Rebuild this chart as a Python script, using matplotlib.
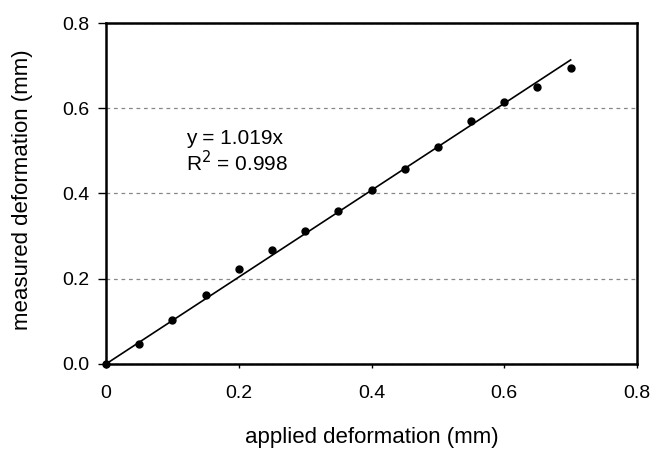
import matplotlib.pyplot as plt
import numpy as np

plt.rcParams['font.family'] = ['Liberation Sans', 'DejaVu Sans']

# measured data
applied = [0.0, 0.05, 0.10, 0.15, 0.20, 0.25, 0.30, 0.35, 0.40, 0.45, 0.50, 0.55, 0.60, 0.65, 0.70]
measured = [0.0, 0.046, 0.104, 0.161, 0.223, 0.267, 0.311, 0.359, 0.407, 0.457, 0.509, 0.571, 0.615, 0.651, 0.695]
slope = 1.019
fit_x = [0.0, 0.70]

fig = plt.figure(figsize=(6.52, 4.51), dpi=100)
ax = fig.add_axes([0.1626, 0.193, 0.8144, 0.756])

ax.plot(fit_x, [slope * v for v in fit_x], color='black', lw=1.2, zorder=3)
ax.plot(applied, measured, 'o', color='black', ms=5, zorder=4, clip_on=False)

ax.set_xlim(0, 0.8)
ax.set_ylim(0, 0.8)
ax.set_xticks([0, 0.2, 0.4, 0.6, 0.8])
ax.set_xticklabels(['0', '0.2', '0.4', '0.6', '0.8'])
ax.set_yticks([0, 0.2, 0.4, 0.6, 0.8])
ax.set_yticklabels(['0.0', '0.2', '0.4', '0.6', '0.8'])
ax.yaxis.grid(True, linestyle=(0, (3, 3)), color='#888888', lw=0.9)
ax.set_axisbelow(True)

for s in ax.spines.values():
    s.set_linewidth(1.8)
ax.tick_params(axis='both', direction='out', labelsize=14, width=1)
ax.tick_params(axis='x', length=3, pad=12)
ax.tick_params(axis='y', length=6, pad=6)

ax.set_xlabel('applied deformation (mm)', fontsize=16)
ax.set_ylabel('measured deformation (mm)', fontsize=16)
ax.xaxis.set_label_coords(0.5, -0.215)
ax.xaxis.label.set_va('center')
ax.yaxis.set_label_coords(-0.158, 0.51)
ax.yaxis.label.set_va('center')

ax.text(0.12, 0.53, 'y = 1.019x', fontsize=15, va='center')
ax.text(0.12, 0.472, r'R$^2$ = 0.998', fontsize=15, va='center')

plt.savefig('out.png', dpi=100)
